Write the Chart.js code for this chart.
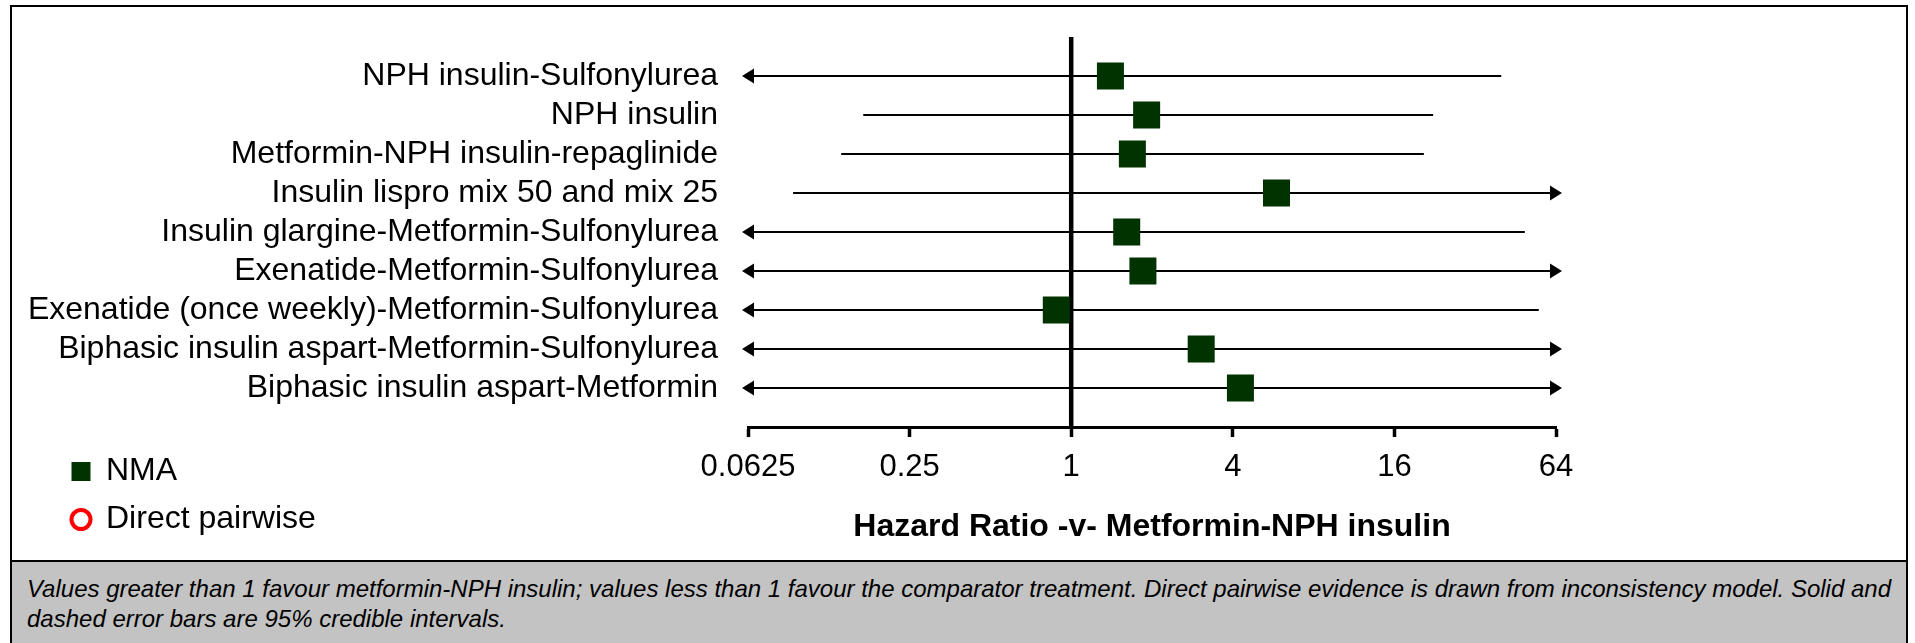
<!DOCTYPE html>
<html>
<head>
<meta charset="utf-8">
<title>Hazard ratio forest plot</title>
<script src="https://cdn.jsdelivr.net/npm/chart.js@4.4.1/dist/chart.umd.min.js"></script>
<style>
    html, body { margin: 0; padding: 0; background: #fff; overflow: hidden; }
    body { font-family: 'Liberation Sans', Arial, sans-serif; }
    #plot { position: absolute; left: 0; top: 0; }
    #frame {
        position: absolute; left: 10px; top: 5px; width: 1898px; height: 700px;
        border: 2px solid #000; box-sizing: border-box; pointer-events: none;
    }
    #note {
        position: absolute; left: 12px; top: 560px; width: 1894px; height: 100px;
        border-top: 2px solid #000; background: #c3c3c3; box-sizing: border-box;
        padding: 12px 0 0 15px; font-style: italic; font-size: 24px; line-height: 30px; color: #000;
    }
</style>
</head>
<body>
<canvas id="plot" width="1915" height="560"></canvas>
<div id="note">Values greater than 1 favour metformin-NPH insulin; values less than 1 favour the comparator treatment. Direct pairwise evidence is drawn from inconsistency model. Solid and<br>dashed error bars are 95% credible intervals.</div>
<div id="frame"></div>
<script>
// treatments, top to bottom
const treatments = [
    'NPH insulin-Sulfonylurea',
    'NPH insulin',
    'Metformin-NPH insulin-repaglinide',
    'Insulin lispro mix 50 and mix 25',
    'Insulin glargine-Metformin-Sulfonylurea',
    'Exenatide-Metformin-Sulfonylurea',
    'Exenatide (once weekly)-Metformin-Sulfonylurea',
    'Biphasic insulin aspart-Metformin-Sulfonylurea',
    'Biphasic insulin aspart-Metformin'
];
// NMA hazard ratios and 95% CrI; null = interval runs off the axis (arrow)
const hrNMA = [1.40, 1.91, 1.69, 5.82, 1.61, 1.85, 0.88, 3.05, 4.27];
const lowerCrI = [null, 0.168, 0.139, 0.092, null, null, null, null, null];
const upperCrI = [40.0, 22.3, 20.6, null, 49.0, null, 55.2, null, null];
// no direct pairwise estimates in this plot
const directPairwise = [];
const xTicks = [0.0625, 0.25, 1, 4, 16, 64];

const FONT = "'Liberation Sans', Arial, sans-serif";

// reference line at HR = 1 and the credible interval bars with arrows
const ciBars = {
    id: 'ciBars',
    beforeDatasetsDraw(chart) {
        const {ctx, chartArea, scales} = chart;
        const x = scales.x, y = scales.y;
        const xMin = x.getPixelForValue(x.min), xMax = x.getPixelForValue(x.max);
        const head = 12, half = 7.5, over = 6;

        ctx.save();
        ctx.strokeStyle = '#000';
        ctx.fillStyle = '#000';
        ctx.lineWidth = 4.5;
        const x1 = x.getPixelForValue(1);
        ctx.beginPath();
        ctx.moveTo(x1, chartArea.top);
        ctx.lineTo(x1, chartArea.bottom);
        ctx.stroke();

        ctx.lineWidth = 2;
        treatments.forEach((t, i) => {
            const py = y.getPixelForValue(i);
            let a = lowerCrI[i] === null ? xMin - over : x.getPixelForValue(lowerCrI[i]);
            let b = upperCrI[i] === null ? xMax + over : x.getPixelForValue(upperCrI[i]);
            ctx.beginPath();
            ctx.moveTo(lowerCrI[i] === null ? a + head : a, py);
            ctx.lineTo(upperCrI[i] === null ? b - head : b, py);
            ctx.stroke();
            if (lowerCrI[i] === null) {
                ctx.beginPath();
                ctx.moveTo(a, py);
                ctx.lineTo(a + head, py - half);
                ctx.lineTo(a + head, py + half);
                ctx.closePath();
                ctx.fill();
            }
            if (upperCrI[i] === null) {
                ctx.beginPath();
                ctx.moveTo(b, py);
                ctx.lineTo(b - head, py - half);
                ctx.lineTo(b - head, py + half);
                ctx.closePath();
                ctx.fill();
            }
        });
        ctx.restore();
    }
};

// two-row legend in the lower left corner
const sideLegend = {
    id: 'sideLegend',
    afterDraw(chart, args, opts) {
        const ctx = chart.ctx;
        ctx.save();
        ctx.font = '32px ' + FONT;
        ctx.textBaseline = 'middle';
        ctx.fillStyle = '#000';
        chart.data.datasets.forEach((ds, i) => {
            const cy = opts.y + i * opts.gap;
            if (ds.pointStyle === 'rect') {
                ctx.fillStyle = ds.backgroundColor;
                ctx.fillRect(opts.x - 9.5, cy - 9.5, 19, 19);
            } else {
                ctx.beginPath();
                ctx.arc(opts.x, cy, 9.5, 0, Math.PI * 2);
                ctx.fillStyle = ds.backgroundColor;
                ctx.fill();
                ctx.lineWidth = 4;
                ctx.strokeStyle = ds.borderColor;
                ctx.stroke();
            }
            ctx.fillStyle = '#000';
            ctx.fillText(ds.label, opts.textX, cy);
        });
        ctx.restore();
    }
};

new Chart(document.getElementById('plot'), {
    type: 'scatter',
    data: {
        datasets: [{
            label: 'NMA',
            data: hrNMA.map((v, i) => ({x: v, y: i})),
            pointStyle: 'rect',
            pointRadius: 19.1,
            pointHoverRadius: 19.1,
            backgroundColor: '#003300',
            borderWidth: 0
        }, {
            label: 'Direct pairwise',
            data: directPairwise,
            pointStyle: 'circle',
            pointRadius: 9.5,
            backgroundColor: '#ffffff',
            borderColor: '#ff0000',
            borderWidth: 4
        }]
    },
    options: {
        responsive: false,
        animation: false,
        layout: {padding: {top: 37, right: 359, left: 0, bottom: 0}},
        plugins: {
            legend: {display: false},
            tooltip: {enabled: false},
            sideLegend: {x: 81, y: 471.5, gap: 48, textX: 106}
        },
        scales: {
            x: {
                type: 'logarithmic',
                min: 0.0625,
                max: 64,
                bounds: 'data',
                afterBuildTicks: (scale) => { scale.ticks = xTicks.map(v => ({value: v})); },
                afterFit: (scale) => {
                    scale.height = 133;
                    scale.paddingLeft = 0;
                    scale.paddingRight = 0;
                },
                ticks: {
                    autoSkip: false,
                    maxRotation: 0,
                    padding: 12,
                    color: '#000',
                    font: {family: FONT, size: 31},
                    callback: (v) => String(v)
                },
                grid: {
                    drawOnChartArea: false,
                    drawTicks: true,
                    tickLength: 10,
                    tickWidth: 3.5,
                    tickColor: '#000'
                },
                border: {display: true, color: '#000', width: 3},
                title: {
                    display: true,
                    text: 'Hazard Ratio -v- Metformin-NPH insulin',
                    color: '#000',
                    font: {family: FONT, size: 32, weight: 'bold'},
                    padding: {top: 0, bottom: 14}
                }
            },
            y: {
                type: 'linear',
                min: -1,
                max: 9,
                reverse: true,
                afterBuildTicks: (scale) => { scale.ticks = treatments.map((t, i) => ({value: i})); },
                afterFit: (scale) => {
                    scale.width = 748;
                    scale.paddingTop = 0;
                    scale.paddingBottom = 0;
                },
                ticks: {
                    autoSkip: false,
                    padding: 30,
                    color: '#000',
                    font: {family: FONT, size: 32},
                    callback: (v) => treatments[v]
                },
                grid: {display: false, drawTicks: false},
                border: {display: false}
            }
        }
    },
    plugins: [ciBars, sideLegend]
});
</script>
</body>
</html>
